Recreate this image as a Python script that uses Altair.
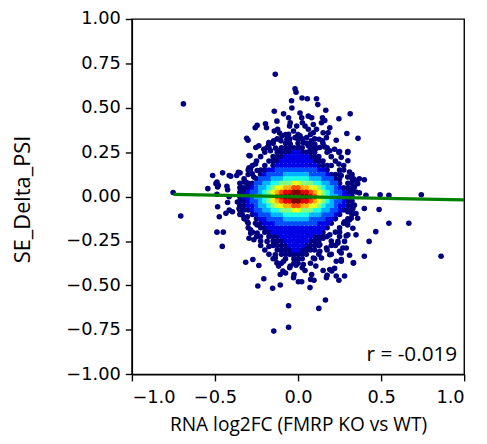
import altair as alt
import pandas as pd

# scattered points (outside the dense core)
out_x = [
    -0.137, -0.690, -0.752, -0.706, -0.018, -0.012, -0.039, 0.024, 0.056, 0.111,
    0.119, -0.037, 0.012, -0.143, -0.087, 0.167, 0.314, 0.246, 0.062, 0.082,
    0.147, 0.161, 0.141, -0.246, -0.258, -0.196, -0.190, -0.127, -0.123, -0.143,
    -0.111, -0.047, -0.051, -0.027, 0.026, 0.042, 0.012, 0.092, 0.111, 0.191,
    0.181, 0.127, 0.147, 0.294, 0.361, -0.309, -0.301, 0.230, 0.250, 0.300,
    -0.236, -0.254, -0.289, -0.176, -0.166, -0.206, -0.103, -0.067, -0.135, 0.080,
    0.062, 0.111, 0.161, 0.191, 0.220, 0.260, 0.300, 0.310, -0.295, -0.359,
    -0.369, -0.414, -0.454, -0.514, -0.488, -0.428, -0.543, -0.484, -0.345, -0.315,
    -0.266, -0.246, 0.334, 0.330, -0.077, -0.047, -0.018, 0.002, 0.032, 0.052,
    0.072, 0.101, 0.131, 0.151, -0.008, -0.057, -0.097, -0.117, -0.147, 0.062,
    0.092, 0.022, -0.057, 0.171, -0.405, -0.349, -0.494, -0.480, -0.488, -0.424,
    -0.415, -0.325, -0.301, -0.286, -0.276, -0.295, -0.256, -0.186, -0.176, -0.484,
    -0.424, -0.474, -0.414, -0.488, -0.450, -0.456, -0.315, -0.272, -0.236, -0.206,
    -0.242, -0.153, -0.107, -0.057, 0.125, 0.165, -0.146, -0.057, 0.002, 0.022,
    0.072, 0.076, -0.027, -0.024, -0.091, -0.107, -0.075, -0.127, -0.137, -0.117,
    -0.047, -0.012, 0.032, 0.042, 0.082, 0.096, 0.107, 0.151, 0.175, 0.203,
    0.230, 0.246, 0.280, 0.171, 0.191, 0.220, 0.260, 0.334, 0.290, 0.310,
    0.260, 0.280, 0.240, 0.207, 0.171, 0.141, 0.131, -0.137, -0.175, -0.186,
    -0.226, -0.266, -0.295, -0.285, -0.246, -0.305, -0.335, -0.355, -0.395, -0.365,
    0.300, 0.330, 0.320, 0.300, 0.330, -0.434, -0.345, -0.305, -0.256, -0.286,
    -0.246, 0.246, 0.299, 0.246, 0.299, 0.260, 0.369, 0.399, 0.349, 0.359,
    0.339, 0.349, 0.319, 0.369, 0.409, 0.494, 0.547, 0.742, 0.399, 0.488,
    0.339, 0.319, 0.547, 0.667, 0.349, 0.359, 0.309, 0.280, 0.299, 0.468,
    0.428, 0.349, 0.290, 0.399, 0.333, 0.861, 0.270, 0.250, 0.260, 0.240,
    -0.166, -0.127, -0.087, -0.047, -0.008, 0.032, 0.072, 0.111, 0.151, 0.191,
    -0.147, -0.067, -0.027, 0.012, 0.052, 0.092, 0.131, 0.191, 0.230, -0.087,
]
out_y = [
    0.689, 0.522, 0.023, -0.109, 0.607, 0.588, 0.540, 0.555, 0.551, 0.551,
    0.518, 0.499, 0.471, 0.481, 0.466, 0.486, 0.466, 0.438, 0.453, 0.444,
    0.444, 0.429, 0.416, 0.401, 0.388, 0.410, 0.388, 0.425, 0.379, 0.369,
    0.358, 0.416, 0.397, 0.369, 0.416, 0.397, 0.342, 0.360, 0.379, 0.388,
    0.360, 0.323, 0.314, 0.355, 0.328, 0.329, 0.317, 0.317, 0.254, 0.254,
    0.286, 0.277, 0.230, 0.295, 0.258, 0.267, 0.314, 0.323, 0.273, 0.314,
    0.286, 0.273, 0.280, 0.258, 0.267, 0.221, 0.202, 0.138, 0.162, 0.137,
    0.119, 0.119, 0.134, 0.119, 0.082, 0.058, 0.045, 0.054, 0.054, 0.082,
    0.110, 0.147, 0.100, 0.045, 0.267, 0.295, 0.332, 0.277, 0.304, 0.332,
    0.258, 0.295, 0.277, 0.360, 0.397, 0.351, 0.342, 0.258, 0.314, 0.379,
    0.406, 0.444, 0.444, 0.332, 0.115, 0.134, 0.073, 0.064, 0.013, 0.039,
    -0.001, 0.082, 0.064, 0.156, 0.129, 0.231, 0.184, 0.277, 0.305, -0.057,
    -0.033, -0.113, -0.076, -0.200, -0.200, -0.280, -0.369, -0.354, -0.388, -0.462,
    -0.503, -0.516, -0.497, -0.614, -0.629, -0.582, -0.757, -0.735, -0.479, -0.479,
    -0.512, -0.466, -0.456, -0.438, -0.419, -0.438, -0.430, -0.373, -0.345, -0.391,
    -0.391, -0.386, -0.382, -0.416, -0.438, -0.471, -0.391, -0.416, -0.443, -0.419,
    -0.447, -0.471, -0.447, -0.456, -0.410, -0.404, -0.364, -0.373, -0.289, -0.330,
    -0.317, -0.252, -0.252, -0.271, -0.289, -0.345, -0.308, -0.327, -0.280, -0.252,
    -0.224, -0.243, -0.234, -0.206, -0.160, -0.141, -0.104, -0.067, -0.085, -0.030,
    -0.215, -0.178, -0.122, -0.085, -0.067, -0.094, -0.085, -0.113, -0.150, -0.187,
    -0.205, 0.249, 0.249, 0.184, 0.110, 0.119, 0.100, 0.095, 0.091, 0.073,
    0.054, 0.026, 0.035, 0.021, 0.008, 0.011, 0.008, 0.011, -0.067, -0.072,
    -0.048, -0.076, -0.150, -0.150, -0.095, -0.122, -0.132, -0.141, -0.159, -0.197,
    -0.252, -0.215, -0.221, -0.336, -0.373, -0.336, -0.289, -0.308, -0.354, -0.261,
    -0.197, -0.215, -0.234, -0.215, -0.252, -0.234, -0.215, -0.252, -0.234, -0.215,
    -0.271, -0.289, -0.327, -0.308, -0.289, -0.345, -0.271, -0.327, -0.364, -0.364,
]

# dense core, read as a grid of density colour levels (0 = navy ... a = dark red)
grid_x = [
    -0.4, -0.375, -0.35, -0.325, -0.3, -0.275, -0.25, -0.225, -0.2, -0.175, -0.15,
    -0.125, -0.1, -0.075, -0.05, -0.025, 0.0, 0.025, 0.05, 0.075, 0.1, 0.125,
    0.15, 0.175, 0.2, 0.225, 0.25, 0.275, 0.3, 0.325, 0.35, 0.375, 0.4,
]
grid_y = [
    0.35, 0.325, 0.3, 0.275, 0.25, 0.225, 0.2, 0.175, 0.15, 0.125, 0.1,
    0.075, 0.05, 0.025, 0.0, -0.025, -0.05, -0.075, -0.1, -0.125, -0.15,
    -0.175, -0.2, -0.225, -0.25, -0.275, -0.3, -0.325, -0.35, -0.375, -0.4,
]
core_rows = [
    ".............0.." "0..0.............",
    "...........0..0." "00..0............",
    "..........0..00." "0.00..0..........",
    ".........0..0000" "00.00..0.........",
    "........0..00001" "10000..0.........",
    ".......0..000111" "111000..0........",
    "......0..0001111" "1111000..0.......",
    ".....0..0.011111" "111110000..0.....",
    "....0..001122222" "22222110..00.....",
    "....0..012222333" "33322221000..0...",
    "...0..0222333444" "44433322200..0...",
    "..0.002233445556" "65554433220.00...",
    "..00012334566778" "87766543321000...",
    "..0012234567899a" "a9987654322100...",
    "..01123345689aaa" "aaa98654332110...",
    "..0012234567899a" "a9987654322100...",
    "..00112334566778" "87766543321100...",
    "..00012233445556" "65554433221000...",
    "..0..01222333444" "44433322210..0...",
    "...0..0112222333" "3332222110..0....",
    "....0..011122222" "222221110..0.....",
    "....0..001111111" "11111110..0......",
    ".....0..00111111" "1111110..00......",
    "......0..0001111" "11110000..0......",
    ".......0..000111" "111000..0........",
    ".......0..000011" "110000..00.......",
    "........0..00001" "10000..0.........",
    ".........0..0000" "000..0..0........",
    "..........0..0.0" "00..0............",
    "............0..0" "0..0.............",
    "..............0." ".0...............",
]

# least-squares line as drawn in the figure
fit_x = [-0.75, 1.0]
fit_y = [0.013, -0.018]

jet = ['#000080', '#0000e6', '#004dff', '#00b3ff', '#1affe6', '#80ff80',
       '#e6ff1a', '#ffb300', '#ff4d00', '#e60000', '#800000']

cells = []
for yv, line in zip(grid_y, core_rows):
    for xv, ch in zip(grid_x, line):
        if ch != '.':
            cells.append((xv, yv, int(ch, 16)))

points = pd.concat([
    pd.DataFrame({'x': out_x, 'y': out_y, 'level': 0}),
    pd.DataFrame(cells, columns=['x', 'y', 'level']),
], ignore_index=True)

W, H = 336, 359.3

x_enc = alt.X('x:Q', scale=alt.Scale(domain=[-1, 1], nice=False, zero=False),
              axis=alt.Axis(values=[-1, -0.5, 0, 0.5, 1], format='.1f',
                            title='RNA log2FC (FMRP KO vs WT)',
                            labelPadding=8, titleFontSize=19.3,
                            titleBaseline='alphabetic', titleY=57))
y_enc = alt.Y('y:Q', scale=alt.Scale(domain=[-1, 1], nice=False, zero=False),
              axis=alt.Axis(values=[-1, -0.75, -0.5, -0.25, 0, 0.25, 0.5, 0.75, 1],
                            format='.2f', title='SE_Delta_PSI',
                            labelPadding=5, titleFontSize=22, titleAngle=270,
                            titleBaseline='alphabetic', titleAlign='center',
                            titleX=-104, titleY=182))

dots = alt.Chart(points).mark_circle(size=32, opacity=1).encode(
    x=x_enc,
    y=y_enc,
    color=alt.Color('level:Q', scale=alt.Scale(domain=list(range(11)), range=jet),
                    legend=None),
    order=alt.Order('level:Q'),
)

fit = alt.Chart(pd.DataFrame({'x': fit_x, 'y': fit_y})).mark_line(
    color='green', strokeWidth=3.3, clip=True
).encode(x='x:Q', y='y:Q')

label = alt.Chart(pd.DataFrame({'t': ['r = -0.019']})).mark_text(
    align='right', baseline='alphabetic', font='Open Sans', fontSize=21, color='black'
).encode(x=alt.value(W - 7), y=alt.value(H - 13), text='t:N')

chart = (dots + fit + label).properties(
    width=W, height=H,
    autosize=alt.AutoSizeParams(type='none'),
    padding={'left': 125.3, 'top': 8.7, 'right': 15, 'bottom': 60},
).configure_view(
    stroke='black', strokeWidth=1.4
).configure_axis(
    grid=False, domainColor='black', domainWidth=1.4, tickColor='black',
    tickWidth=1.4, tickSize=6.7, labelFont='DejaVu Sans', labelFontSize=18,
    labelColor='black', titleFont='Open Sans', titleColor='black',
    titleFontWeight='normal'
)

chart.save("out.html", embed_options={"renderer": "svg", "actions": False})
